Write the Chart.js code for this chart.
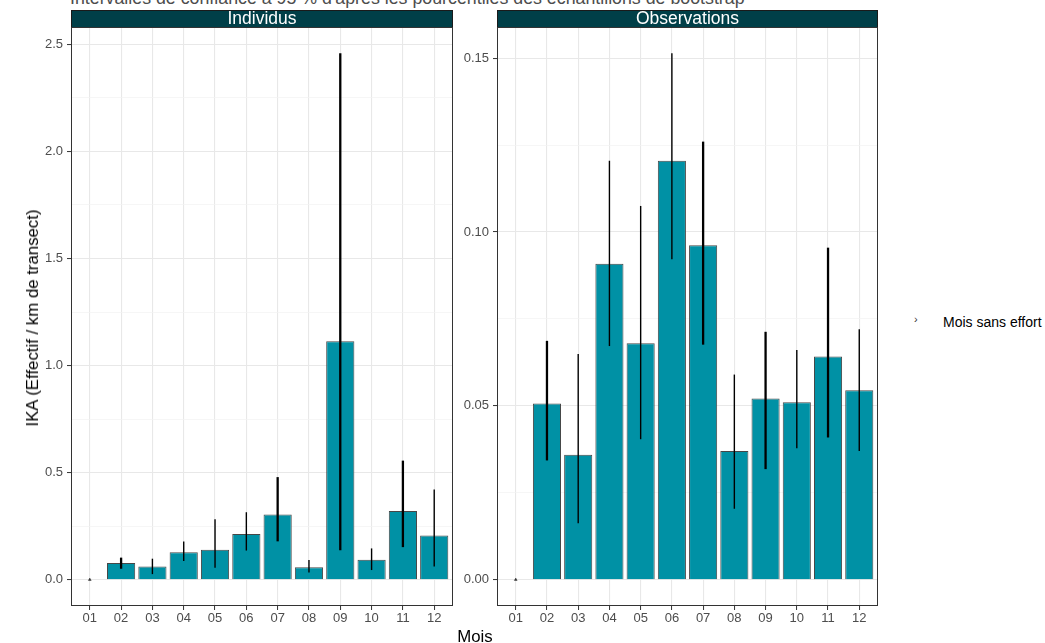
<!DOCTYPE html>
<html>
<head>
<meta charset="utf-8">
<script src="https://cdn.jsdelivr.net/npm/chart.js@4.4.0/dist/chart.umd.min.js"></script>
<style>
  body { margin: 0; width: 1045px; height: 643px; position: relative; overflow: hidden; background: #fff;
         font-family: "Liberation Sans", Arial, sans-serif; }
  canvas { position: absolute; top: 0; }
  #chartInd { left: 0; }
  #chartObs { left: 455px; }
  .txt { position: absolute; white-space: nowrap; }
</style>
</head>
<body>
<div class="txt" style="left:70px; top:-11px; font-size:17.8px; line-height:18px; color:#4d4d4d;">Intervalles de confiance à 95 % d'après les pourcentiles des échantillons de bootstrap</div>
<canvas id="chartInd" width="460" height="643"></canvas>
<canvas id="chartObs" width="430" height="643"></canvas>
<div class="txt" style="left:33px; top:318px; font-size:16.8px; color:#000; transform:translate(-50%,-50%) rotate(-90deg);">IKA (Effectif / km de transect)</div>
<div class="txt" style="left:475px; top:627px; font-size:16.8px; color:#000; transform:translateX(-50%);">Mois</div>
<div class="txt" style="left:914px; top:313px; font-size:11px; color:#333;">›</div>
<div class="txt" style="left:943px; top:314px; font-size:14px; color:#000;">Mois sans effort</div>

<script>
// =====================
// DONNEES
// =====================
const mois = ["01", "02", "03", "04", "05", "06", "07", "08", "09", "10", "11", "12"];
const moisSansEffort = ["01"];

// IKA individus (effectif / km) + IC 95 %
const ikaIndividus     = [null, 0.078, 0.061, 0.128, 0.140, 0.213, 0.304, 0.058, 1.113, 0.093, 0.321, 0.206];
const ikaIndividusBas  = [null, 0.051, 0.026, 0.087, 0.056, 0.136, 0.179, 0.033, 0.137, 0.045, 0.152, 0.062];
const ikaIndividusHaut = [null, 0.103, 0.098, 0.178, 0.282, 0.315, 0.479, 0.092, 2.458, 0.146, 0.556, 0.421];

// IKA observations + IC 95 %
const ikaObservations     = [null, 0.0507, 0.0359, 0.0909, 0.0680, 0.1205, 0.0962, 0.0370, 0.0521, 0.0510, 0.0642, 0.0545];
const ikaObservationsBas  = [null, 0.0343, 0.0162, 0.0672, 0.0404, 0.0922, 0.0676, 0.0204, 0.0318, 0.0378, 0.0409, 0.0370];
const ikaObservationsHaut = [null, 0.0687, 0.0649, 0.1205, 0.1075, 0.1514, 0.1260, 0.0590, 0.0713, 0.0661, 0.0955, 0.0720];

const ticksIndividus = [0, 0.5, 1.0, 1.5, 2.0, 2.5];
const ticksObservations = [0, 0.05, 0.10, 0.15];

// epaisseur des barres d'erreur (style)
const epaisseurIC = [0, 2.3, 1.4, 1.4, 1.4, 1.4, 2.3, 1.4, 2.3, 1.4, 2.3, 1.4];

// =====================
// OUTILS
// =====================
const police = "'Liberation Sans', Arial, sans-serif";

function toPoints(valeurs) {
  return valeurs.map((v, i) => ({ x: i + 1, y: v })).filter(p => p.y !== null);
}

// intervalles de confiance dessines avec les echelles du graphique
function pluginIC(bas, haut) {
  return {
    id: "ic",
    afterDatasetsDraw(chart) {
      const ctx = chart.ctx, xs = chart.scales.x, ys = chart.scales.y;
      ctx.save();
      ctx.strokeStyle = "#000";
      ctx.lineCap = "butt";
      haut.forEach((h, i) => {
        if (h === null) return;
        const x = xs.getPixelForValue(i + 1);
        ctx.lineWidth = epaisseurIC[i];
        ctx.beginPath();
        ctx.moveTo(x, ys.getPixelForValue(h));
        ctx.lineTo(x, ys.getPixelForValue(bas[i]));
        ctx.stroke();
      });
      ctx.restore();
    }
  };
}

// bandeau de facette + cadre du panneau
function pluginPanneau(titre) {
  return {
    id: "panneau",
    afterDraw(chart) {
      const ctx = chart.ctx, a = chart.chartArea;
      ctx.save();
      ctx.fillStyle = "#003F48";
      ctx.fillRect(a.left, 10, a.right - a.left, a.top - 10);
      ctx.strokeStyle = "#1a1a1a";
      ctx.lineWidth = 1;
      ctx.strokeRect(a.left + 0.5, 10.5, a.right - a.left - 1, a.top - 10);
      ctx.fillStyle = "#fff";
      ctx.font = "17.5px " + police;
      ctx.textAlign = "center";
      ctx.textBaseline = "middle";
      ctx.fillText(titre, (a.left + a.right) / 2, (10 + a.top) / 2 + 1);
      ctx.strokeStyle = "#333";
      ctx.strokeRect(a.left + 0.5, a.top + 0.5, a.right - a.left - 1, a.bottom - a.top - 1);
      ctx.restore();
    }
  };
}

function creerGraphique(id, titre, valeurs, bas, haut, ticksMaj, decimales, largeurAxeY) {
  const maxDonnee = Math.max(...haut.filter(v => v !== null));
  const ext = maxDonnee * 0.05;
  const ticksMin = [];
  for (let k = 0; k < ticksMaj.length - 1; k++) ticksMin.push((ticksMaj[k] + ticksMaj[k + 1]) / 2);
  const estMajeur = v => ticksMaj.some(t => Math.abs(t - v) < 1e-9);

  return new Chart(document.getElementById(id), {
    type: "bar",
    data: {
      datasets: [
        {
          data: toPoints(valeurs),
          backgroundColor: "#0091A5",
          borderColor: "#474747",
          borderWidth: 1,
          categoryPercentage: 0.9,
          barPercentage: 1.0,
          order: 2
        },
        {
          type: "scatter",
          data: moisSansEffort.map(m => ({ x: mois.indexOf(m) + 1, y: 0 })),
          pointStyle: "triangle",
          radius: 1.6,
          backgroundColor: "#333",
          borderColor: "#333",
          borderWidth: 0.5,
          order: 1
        }
      ]
    },
    options: {
      responsive: false,
      animation: false,
      layout: { padding: { left: 0, right: 7, top: 27, bottom: 0 } },
      plugins: { legend: { display: false }, tooltip: { enabled: false } },
      scales: {
        x: {
          type: "linear",
          offset: false,
          min: 0.4,
          max: 12.6,
          afterBuildTicks: axis => { axis.ticks = mois.map((m, i) => ({ value: i + 1 })); },
          afterFit: axis => { axis.height = 37; },
          ticks: {
            callback: v => mois[v - 1],
            font: { size: 13, family: police },
            color: "#4d4d4d",
            padding: 1,
            maxRotation: 0,
            autoSkip: false
          },
          grid: { offset: false, color: "#E8E8E8", lineWidth: 1.1, tickLength: 4, tickColor: "#333", tickWidth: 1 },
          border: { display: false }
        },
        y: {
          min: -ext,
          max: maxDonnee + ext,
          afterBuildTicks: axis => {
            axis.ticks = ticksMaj.concat(ticksMin).sort((a, b) => a - b).map(v => ({ value: v }));
          },
          afterFit: axis => { axis.width = largeurAxeY; },
          ticks: {
            callback: v => (estMajeur(v) ? v.toFixed(decimales) : ""),
            font: { size: 13, family: police },
            color: "#4d4d4d",
            padding: 4,
            autoSkip: false
          },
          grid: {
            color: c => (estMajeur(c.tick.value) ? "#E8E8E8" : "#F2F2F2"),
            lineWidth: c => (estMajeur(c.tick.value) ? 1.1 : 0.7),
            tickLength: 4,
            tickColor: c => (estMajeur(c.tick.value) ? "#333" : "rgba(0,0,0,0)"),
            tickWidth: 1
          },
          border: { display: false }
        }
      }
    },
    plugins: [pluginIC(bas, haut), pluginPanneau(titre)]
  });
}

creerGraphique("chartInd", "Individus", ikaIndividus, ikaIndividusBas, ikaIndividusHaut, ticksIndividus, 1, 71);
creerGraphique("chartObs", "Observations", ikaObservations, ikaObservationsBas, ikaObservationsHaut, ticksObservations, 2, 42);
</script>
</body>
</html>
